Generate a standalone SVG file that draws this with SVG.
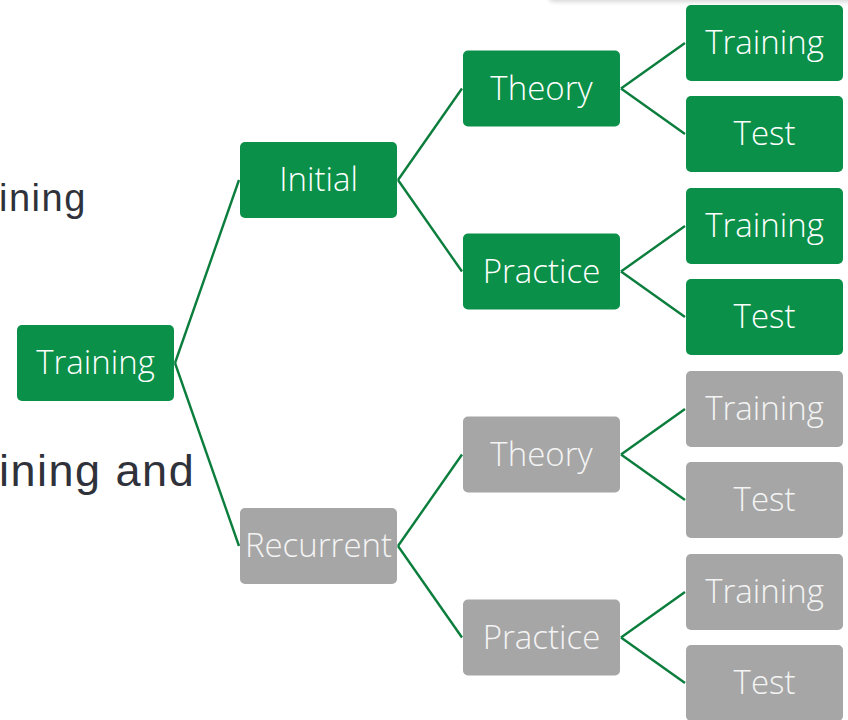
<svg xmlns="http://www.w3.org/2000/svg" width="848" height="720" viewBox="0 0 848 720">
<defs>
<style>
.g rect{fill:#0a9048}
.r rect{fill:#a6a6a6}
.n text{font-family:"Open Sans","Liberation Sans",sans-serif;font-size:33px;font-weight:300;fill:#ffffff;text-anchor:middle}
.r text{fill:#f4f4f4}
.bg{font-family:"Liberation Sans",Arial,sans-serif;fill:#2f323a}
#connectors line{stroke:#0b7d3c;stroke-width:2.4;fill:none}
</style>
<filter id="sh" x="-10%" y="-100%" width="120%" height="300%"><feGaussianBlur stdDeviation="2"/></filter>
</defs>
<rect width="848" height="720" fill="#ffffff"/>
<rect x="548" y="-20" width="310" height="22" rx="6" fill="#d8d8d8" filter="url(#sh)"/>
<rect x="548" y="-20" width="310" height="20" rx="6" fill="#ffffff"/>
<text class="bg" x="-1" y="211" font-size="38" letter-spacing="1.5">ining</text>
<text class="bg" x="-1" y="486" font-size="45" letter-spacing="1.5">ining and</text>
<g id="connectors">
<line x1="175" y1="363" x2="239" y2="180"/>
<line x1="175" y1="363" x2="239" y2="546"/>
<line x1="398" y1="180" x2="462" y2="88.5"/>
<line x1="398" y1="180" x2="462" y2="271.5"/>
<line x1="398" y1="546" x2="462" y2="454.5"/>
<line x1="398" y1="546" x2="462" y2="637.5"/>
<line x1="621" y1="88.5" x2="685" y2="43"/>
<line x1="621" y1="88.5" x2="685" y2="134"/>
<line x1="621" y1="271.5" x2="685" y2="226"/>
<line x1="621" y1="271.5" x2="685" y2="317"/>
<line x1="621" y1="454.5" x2="685" y2="409"/>
<line x1="621" y1="454.5" x2="685" y2="500"/>
<line x1="621" y1="637.5" x2="685" y2="592"/>
<line x1="621" y1="637.5" x2="685" y2="683"/>
</g>
<g id="root" class="n g"><rect x="17" y="325" width="157" height="76" rx="5"/><text x="95.5" y="374">Training</text></g>
<g id="initial" class="n g"><rect x="240" y="142" width="157" height="76" rx="5"/><text x="318.5" y="191">Initial</text></g>
<g id="recurrent" class="n r"><rect x="240" y="508" width="157" height="76" rx="5"/><text x="318.5" y="557">Recurrent</text></g>
<g id="initial-theory" class="n g"><rect x="463" y="50.5" width="157" height="76" rx="5"/><text x="541.5" y="99.5">Theory</text></g>
<g id="initial-practice" class="n g"><rect x="463" y="233.5" width="157" height="76" rx="5"/><text x="541.5" y="282.5">Practice</text></g>
<g id="recurrent-theory" class="n r"><rect x="463" y="416.5" width="157" height="76" rx="5"/><text x="541.5" y="465.5">Theory</text></g>
<g id="recurrent-practice" class="n r"><rect x="463" y="599.5" width="157" height="76" rx="5"/><text x="541.5" y="648.5">Practice</text></g>
<g id="it-training" class="n g"><rect x="686" y="5" width="157" height="76" rx="5"/><text x="764.5" y="54">Training</text></g>
<g id="it-test" class="n g"><rect x="686" y="96" width="157" height="76" rx="5"/><text x="764.5" y="145">Test</text></g>
<g id="ip-training" class="n g"><rect x="686" y="188" width="157" height="76" rx="5"/><text x="764.5" y="237">Training</text></g>
<g id="ip-test" class="n g"><rect x="686" y="279" width="157" height="76" rx="5"/><text x="764.5" y="328">Test</text></g>
<g id="rt-training" class="n r"><rect x="686" y="371" width="157" height="76" rx="5"/><text x="764.5" y="420">Training</text></g>
<g id="rt-test" class="n r"><rect x="686" y="462" width="157" height="76" rx="5"/><text x="764.5" y="511">Test</text></g>
<g id="rp-training" class="n r"><rect x="686" y="554" width="157" height="76" rx="5"/><text x="764.5" y="603">Training</text></g>
<g id="rp-test" class="n r"><rect x="686" y="645" width="157" height="76" rx="5"/><text x="764.5" y="694">Test</text></g>
</svg>
